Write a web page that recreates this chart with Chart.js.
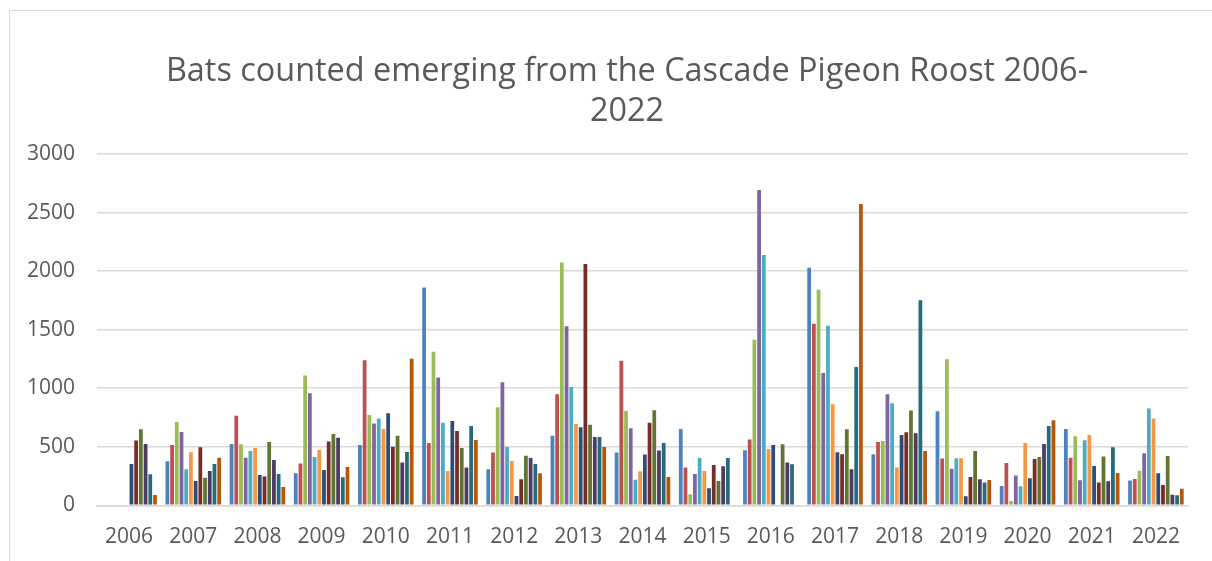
<!DOCTYPE html>
<html>
<head>
  <meta charset="utf-8">
  <title>Bats counted emerging from the Cascade Pigeon Roost 2006-2022</title>
  <style>
    html, body { margin: 0; padding: 0; background: #fff; overflow: hidden; }
    .frame { position: absolute; left: 9px; top: 10px; width: 1300px; height: 600px;
             border-left: 1px solid #d9d9d9; border-top: 1px solid #d9d9d9; }
    .wrap { position: absolute; left: 0; top: 0; width: 1234px; height: 550px; }
  </style>
</head>
<body>
  <div class="frame"><div class="wrap"><canvas id="bats"></canvas></div></div>
  <script src="https://cdn.jsdelivr.net/npm/chart.js"></script>
  <script>
    const years = ['2006','2007','2008','2009','2010','2011','2012','2013','2014','2015','2016','2017','2018','2019','2020','2021','2022'];

    // one array per count (12 counts a year), values per year 2006..2022
    const count1  = [null, 376, 524, 273,  516, 1860,  308,  593,  450, 652,  470, 2028,  436,  803, 165, 652, 211];
    const count2  = [null, 516, 764, 356, 1239,  533,  450,  949, 1234, 322,  561, 1550,  541,  399, 362, 407, 225];
    const count3  = [null, 712, 521, 1108, 772, 1311,  838, 2074,  806,  94, 1413, 1840,  550, 1248,  37, 590, 296];
    const count4  = [null, 627, 407, 957,  698, 1091, 1051, 1530,  658, 268, 2692, 1131,  949,  313, 254, 214, 444];
    const count5  = [null, 308, 464, 413,  741,  704,  499, 1011,  219, 405, 2137, 1533,  872,  402, 162, 556, 826];
    const count6  = [null, 453, 490, 473,  652,  293,  379,  695,  291, 293,  481,  863,  322,  402, 533, 601, 741];
    const count7  = [353, 208, 259, 302,  786,  721,   80,  667,  433, 145,  516,  453,  601,   77, 231, 336, 273];
    const count8  = [553, 496, 245, 544,  501,  635,  222, 2060,  704, 345, null,  436,  624,  242, 396, 194, 174];
    const count9  = [650, 236, 541, 610,  593,  490,  424,  689,  812, 208,  521,  650,  809,  464, 413, 416, 422];
    const count10 = [524, 293, 387, 578,  365,  322,  405,  584,  467, 333,  365,  308,  615,  222, 524, 205,  91];
    const count11 = [265, 353, 268, 239,  456,  678,  353,  584,  533, 405,  350, 1182, 1752,  194, 678, 496,  85];
    const count12 = [ 88, 407, 157, 328, 1251,  558,  273,  499,  242, null, null, 2573,  464,  217, 726, 276, 142];

    const series = [count1, count2, count3, count4, count5, count6, count7, count8, count9, count10, count11, count12];
    const colors = ['#4F81BD', '#C0504D', '#9BBB59', '#8064A2', '#4BACC6', '#F79646',
                    '#2C4D75', '#772C2A', '#5F7530', '#4D3B62', '#276A7C', '#B65708'];

    const textColor = '#595959';
    const gridColor = '#d9d9d9';
    const font = { family: "'Open Sans', sans-serif", size: 21 };

    const datasets = series.map((data, i) => ({
      label: 'Count ' + (i + 1),
      data: data,
      backgroundColor: colors[i],
      borderWidth: 0,
      categoryPercentage: 0.88,
      barPercentage: 0.8
    }));

    new Chart(document.getElementById('bats'), {
      type: 'bar',
      data: { labels: years, datasets: datasets },
      options: {
        responsive: true,
        maintainAspectRatio: false,
        animation: false,
        layout: { padding: 0 },
        plugins: {
          legend: { display: false },
          tooltip: { enabled: false },
          title: {
            display: true,
            text: ['Bats counted emerging from the Cascade Pigeon Roost 2006-', '2022'],
            color: textColor,
            font: { family: "'Open Sans', sans-serif", size: 32.4, weight: 'normal', lineHeight: 1.22 },
            padding: { top: 41, bottom: 23 }
          }
        },
        scales: {
          x: {
            grid: { display: false },
            border: { display: true, color: gridColor, width: 1.5 },
            ticks: { color: textColor, font: font, padding: 11, maxRotation: 0, autoSkip: false },
            afterFit: s => { s.height = 55.7; }
          },
          y: {
            min: 0,
            max: 3000,
            ticks: { stepSize: 500, color: textColor, font: font, padding: 22, callback: v => String(v) },
            grid: { color: gridColor, lineWidth: 1.5, drawTicks: false },
            border: { display: false },
            afterFit: s => { s.width = 87; }
          },
          y2: {
            position: 'right',
            grid: { display: false },
            ticks: { display: false },
            border: { display: false },
            afterFit: s => { s.width = 56; }
          }
        }
      }
    });
  </script>
</body>
</html>
